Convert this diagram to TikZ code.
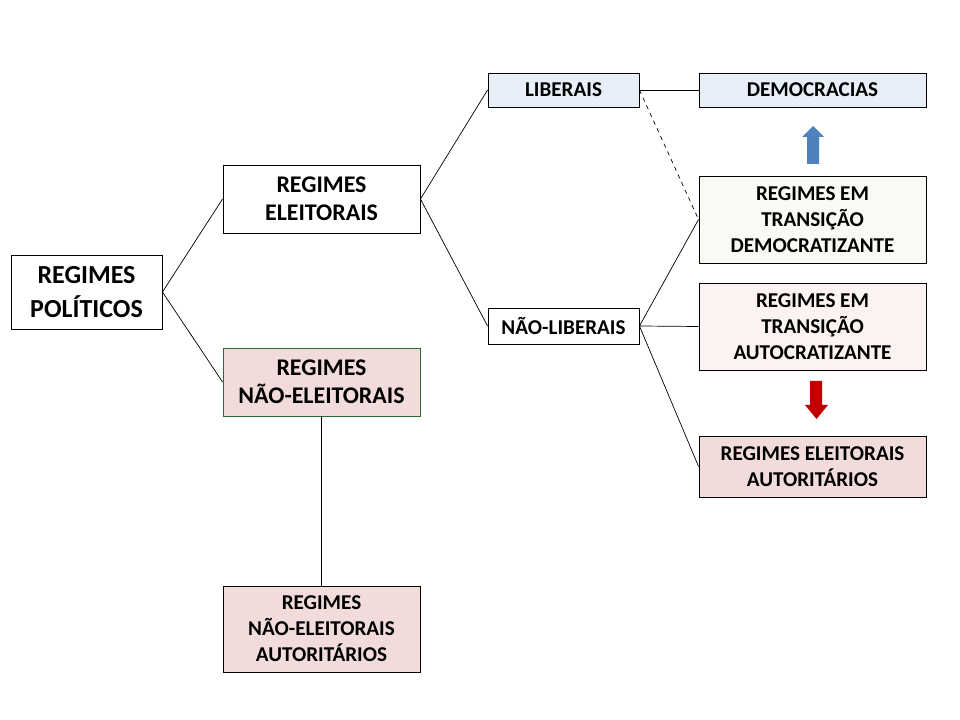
\documentclass[tikz,border=0pt]{standalone}
\usepackage{fontspec}
\setmainfont{Carlito}
\definecolor{azul}{HTML}{E9EFF8}
\definecolor{rosa}{HTML}{F2DCDB}
\definecolor{rosaclaro}{HTML}{FDF2F2}
\definecolor{verdeclaro}{HTML}{F8FAF3}
\definecolor{verde}{HTML}{2F6B35}
\definecolor{setaazul}{HTML}{4F81BD}
\definecolor{setavermelha}{HTML}{C00000}
\tikzset{
  caixa/.style={draw, line width=0.6pt, align=center, inner sep=0pt, font=\bfseries},
  grande/.style={caixa, minimum width=3.775cm, minimum height=1.85cm, font=\bfseries\fontsize{18.5}{24}\selectfont},
  media/.style={caixa, minimum width=4.925cm, minimum height=1.7cm, font=\bfseries\fontsize{17}{20}\selectfont},
  pequena/.style={caixa, minimum width=3.775cm, font=\bfseries\fontsize{15}{18.5}\selectfont},
  larga/.style={caixa, minimum width=5.675cm, font=\bfseries\fontsize{15}{18.5}\selectfont},
  liga/.style={line width=0.5pt}
}
\begin{document}
\begin{tikzpicture}[x=0.025cm, y=-0.025cm]
  \useasboundingbox (0,0) rectangle (960,720);
  \node [grande] (pol) at (86.5,292) {REGIMES\\POLÍTICOS};
  \node [media] (ele) at (321.5,199) {REGIMES\\ELEITORAIS};
  \node [media, fill=rosa, draw=verde] (nele) at (321.5,382) {REGIMES\\NÃO-ELEITORAIS};
  \node [caixa, fill=rosa, minimum width=4.925cm, minimum height=2.15cm, font=\bfseries\fontsize{15}{18.5}\selectfont] (neaut) at (321.5,629) {REGIMES\\NÃO-ELEITORAIS\\AUTORITÁRIOS};
  \node [pequena, fill=azul, minimum height=0.85cm] (lib) at (563.5,90) {LIBERAIS};
  \node [pequena, minimum height=0.9cm] (nlib) at (563.5,326) {NÃO-LIBERAIS};
  \node [larga, fill=azul, minimum height=0.85cm] (dem) at (812.5,90) {DEMOCRACIAS};
  \node [larga, fill=verdeclaro, minimum height=2.175cm] (tdem) at (812.5,219.5) {REGIMES EM\\TRANSIÇÃO\\DEMOCRATIZANTE};
  \node [larga, fill=rosaclaro, minimum height=2.175cm] (taut) at (812.5,326.5) {REGIMES EM\\TRANSIÇÃO\\AUTOCRATIZANTE};
  \node [larga, fill=rosa, minimum height=1.525cm] (eaut) at (812.5,466.5) {REGIMES ELEITORAIS\\AUTORITÁRIOS};
  % ligacoes
  \draw [liga] (pol.east) -- (ele.west) (pol.east) -- (nele.west);
  \draw [liga] (ele.east) -- (lib.west) (ele.east) -- (nlib.west);
  \draw [liga] (nele.south) -- (neaut.north);
  \draw [liga] (lib.east) -- (dem.west);
  \draw [liga, dashed] (lib.east) -- (tdem.west);
  \draw [liga] (nlib.east) -- (tdem.west) (nlib.east) -- (taut.west) (nlib.east) -- (eaut.west);
  % setas
  \fill [setaazul] (807,164) -- (807,137) -- (802,137) -- (813,126) -- (824,137) -- (819,137) -- (819,164) -- cycle;
  \fill [setavermelha] (810,381) -- (810,405) -- (805,405) -- (816.5,419) -- (828,405) -- (822,405) -- (822,381) -- cycle;
\end{tikzpicture}
\end{document}
